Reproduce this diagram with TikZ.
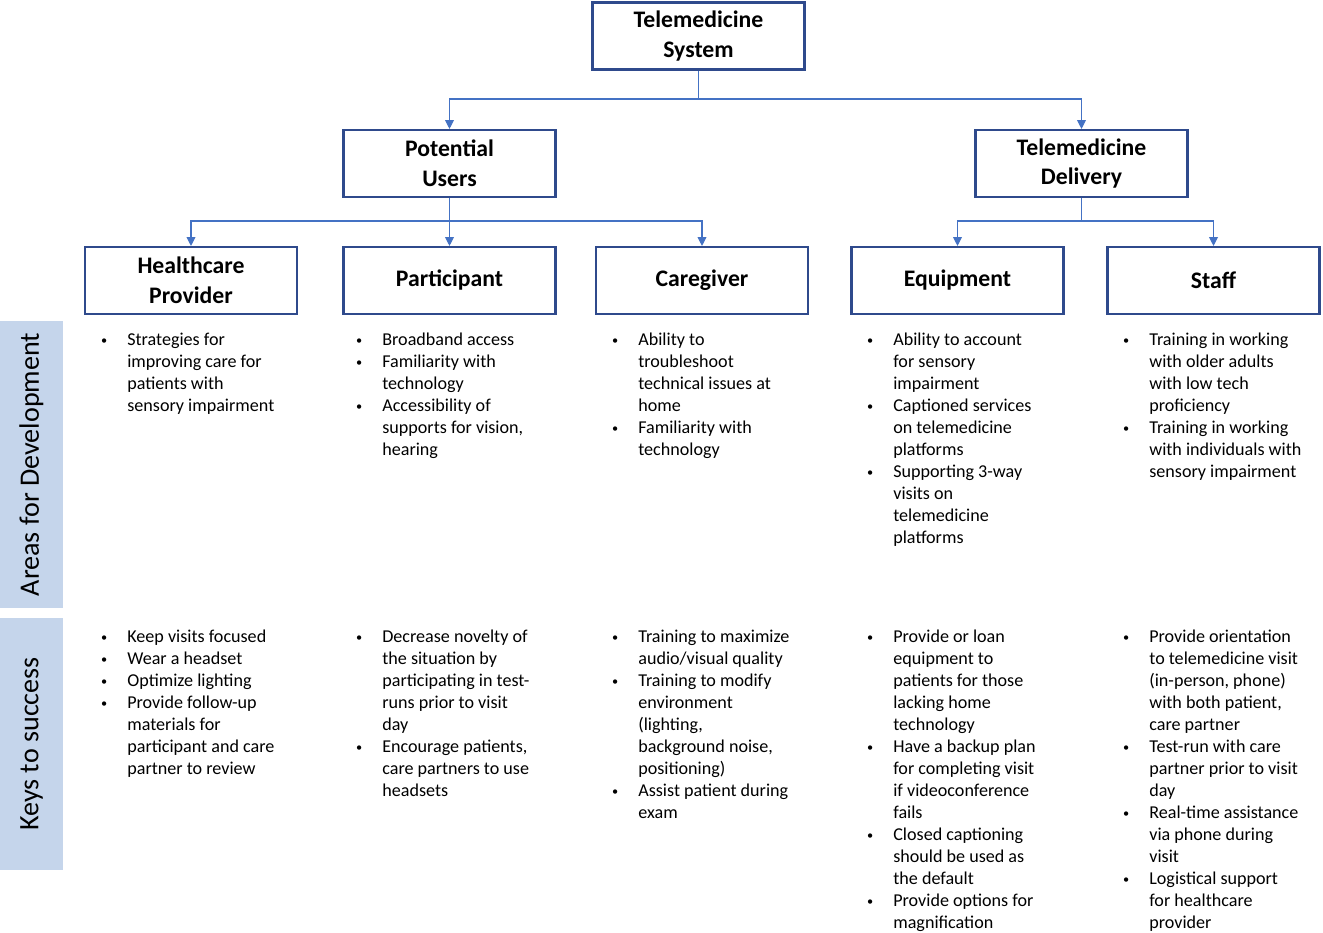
\documentclass[tikz,border=0pt]{standalone}
\usepackage{fontspec}
\setmainfont{Carlito}
\usetikzlibrary{arrows.meta}

% Define colors
\definecolor{boxblue}{HTML}{2F4A8C}
\definecolor{linkblue}{HTML}{4472C4}
\definecolor{bandblue}{HTML}{C5D5EB}

\tikzset{
	topic/.style={draw=boxblue, line width=1.2pt, fill=white, inner sep=0pt,
		minimum width=4.24cm, minimum height=1.34cm, align=center,
		font=\fontsize{13.5}{17}\selectfont\bfseries},
	link/.style={draw=linkblue, line width=0.6pt},
	arr/.style={link, -{Triangle[width=5pt,length=5pt]}},
	band/.style={fill=bandblue, rotate=90, minimum height=1.26cm, inner sep=0pt,
		font=\fontsize{16}{19}\selectfont},
	items/.style={anchor=north west, inner sep=0pt,
		font=\fontsize{10.3}{12.5}\selectfont}
}
\newcommand\itm{\hspace{0.5pt}\raisebox{0.7pt}{\fontsize{7}{8}\selectfont\textbullet}}
\newcommand\blist[1]{\begin{tabular}{@{}p{0.54cm}@{}l@{}}#1\end{tabular}}

\begin{document}
\begin{tikzpicture}[x=0.02cm, y=-0.02cm]
	\useasboundingbox (0,0) rectangle (1323,933);

	% Draw the side bands
	\node[band, minimum width=5.74cm] (areas) at (31.5,464.5) {Areas for Development};
	\node[band, minimum width=5.04cm] (keys) at (31.5,744) {Keys to success};

	% Draw the boxes
	\node[topic] (sys) at (698.5,36) {Telemedicine\\System};
	\node[topic] (users) at (449.5,163.5) {Potential\\Users};
	\node[topic] (deliv) at (1081.5,163.5) {Telemedicine\\Delivery};
	\node[topic] (hcp) at (191,280.5) {Healthcare\\Provider};
	\node[topic] (part) at (449.5,280.5) {Participant};
	\node[topic] (care) at (702,280.5) {Caregiver};
	\node[topic] (equip) at (957.5,280.5) {Equipment};
	\node[topic] (staff) at (1213.5,280.5) {Staff};

	% Draw the connectors
	\coordinate (j1) at (698.5,99);
	\coordinate (j2) at (449.5,221);
	\coordinate (j3) at (1081.5,221);
	\draw[link] (sys.south) -- (j1);
	\draw[arr] (j1) -| (users.north);
	\draw[arr] (j1) -| (deliv.north);
	\draw[link] (users.south) -- (j2);
	\foreach \t in {hcp, part, care} {
		\draw[arr] (j2) -| (\t.north);
	}
	\draw[link] (deliv.south) -- (j3);
	\foreach \t in {equip, staff} {
		\draw[arr] (j3) -| (\t.north);
	}

	% Areas for development
	\node[items] (hcpdev) at (100,330) {\blist{
		\itm & Strategies for\\ & improving care for\\ & patients with\\ & sensory impairment}};
	\node[items] (partdev) at (355,330) {\blist{
		\itm & Broadband access\\
		\itm & Familiarity with\\ & technology\\
		\itm & Accessibility of\\ & supports for vision,\\ & hearing}};
	\node[items] (caredev) at (611,330) {\blist{
		\itm & Ability to\\ & troubleshoot\\ & technical issues at\\ & home\\
		\itm & Familiarity with\\ & technology}};
	\node[items] (equipdev) at (866,330) {\blist{
		\itm & Ability to account\\ & for sensory\\ & impairment\\
		\itm & Captioned services\\ & on telemedicine\\ & platforms\\
		\itm & Supporting 3-way\\ & visits on\\ & telemedicine\\ & platforms}};
	\node[items] (staffdev) at (1122,330) {\blist{
		\itm & Training in working\\ & with older adults\\ & with low tech\\ & proficiency\\
		\itm & Training in working\\ & with individuals with\\ & sensory impairment}};

	% Keys to success
	\node[items] (hcpkey) at (100,627) {\blist{
		\itm & Keep visits focused\\
		\itm & Wear a headset\\
		\itm & Optimize lighting\\
		\itm & Provide follow-up\\ & materials for\\ & participant and care\\ & partner to review}};
	\node[items] (partkey) at (355,627) {\blist{
		\itm & Decrease novelty of\\ & the situation by\\ & participating in test-\\ & runs prior to visit\\ & day\\
		\itm & Encourage patients,\\ & care partners to use\\ & headsets}};
	\node[items] (carekey) at (611,627) {\blist{
		\itm & Training to maximize\\ & audio/visual quality\\
		\itm & Training to modify\\ & environment\\ & (lighting,\\ & background noise,\\ & positioning)\\
		\itm & Assist patient during\\ & exam}};
	\node[items] (equipkey) at (866,627) {\blist{
		\itm & Provide or loan\\ & equipment to\\ & patients for those\\ & lacking home\\ & technology\\
		\itm & Have a backup plan\\ & for completing visit\\ & if videoconference\\ & fails\\
		\itm & Closed captioning\\ & should be used as\\ & the default\\
		\itm & Provide options for\\ & magnification}};
	\node[items] (staffkey) at (1122,627) {\blist{
		\itm & Provide orientation\\ & to telemedicine visit\\ & (in-person, phone)\\ & with both patient,\\ & care partner\\
		\itm & Test-run with care\\ & partner prior to visit\\ & day\\
		\itm & Real-time assistance\\ & via phone during\\ & visit\\
		\itm & Logistical support\\ & for healthcare\\ & provider}};

\end{tikzpicture}
\end{document}
